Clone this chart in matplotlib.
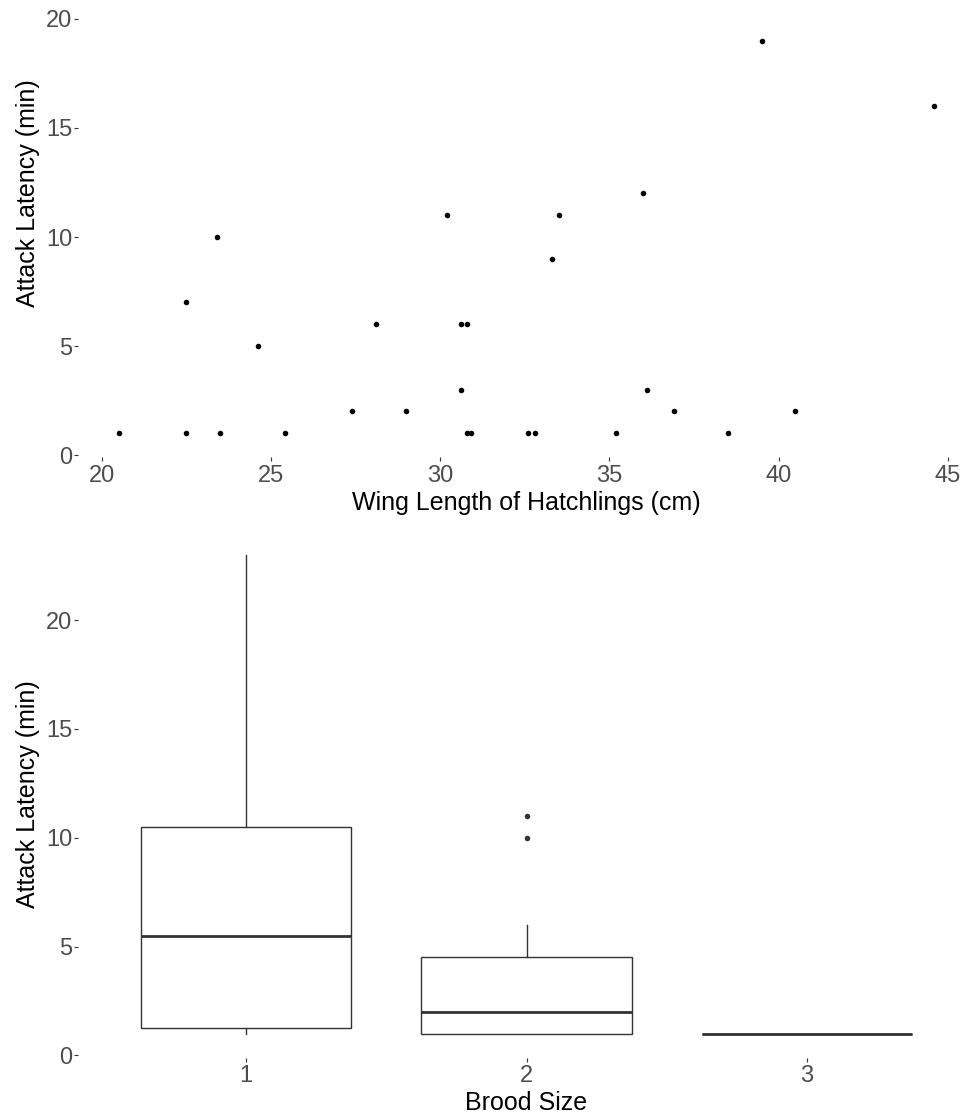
import matplotlib
matplotlib.use("Agg")
import matplotlib.pyplot as plt

# ---------------- data ----------------
wing_length = [20.5, 22.5, 22.5, 23.4, 23.5, 24.6, 25.4, 27.4, 28.1, 29.0,
               30.2, 30.6, 30.8, 30.6, 30.8, 30.9, 32.6, 32.8, 33.3, 33.5,
               35.2, 36.0, 36.1, 36.9, 38.5, 39.5, 40.5, 44.6]
latency = [1, 7, 1, 10, 1, 5, 1, 2, 6, 2,
           11, 6, 6, 3, 1, 1, 1, 1, 9, 11,
           1, 12, 3, 2, 1, 19, 2, 16]

brood_sizes = ["1", "2", "3"]
box_q1 = [1.25, 1.0, 1.0]
box_median = [5.5, 2.0, 1.0]
box_q3 = [10.5, 4.5, 1.0]
whisker_low = [1.0, 1.0, 1.0]
whisker_high = [23.0, 6.0, 1.0]
outliers = [[], [10, 11], []]

x_ticks_top = [20, 25, 30, 35, 40, 45]
y_ticks = [0, 5, 10, 15, 20]

# ---------------- figure ----------------
W, H = 969, 1117
DPI = 100
plt.rcParams['font.family'] = ['Liberation Sans', 'DejaVu Sans']
fig = plt.figure(figsize=(W / DPI, H / DPI), dpi=DPI, facecolor='white')


def px_axes(left, right, top, bottom):
    return fig.add_axes([left / W, 1 - bottom / H, (right - left) / W, (bottom - top) / H])


TICK_COLOR = '#333333'
LABEL_COLOR = '#4D4D4D'
TICK_SIZE = 17
TITLE_SIZE = 18


def style(ax):
    for s in ax.spines.values():
        s.set_visible(False)
    ax.set_facecolor('white')
    ax.tick_params(axis='both', direction='out', length=2.6, width=0.8,
                   color=TICK_COLOR, labelcolor=LABEL_COLOR, labelsize=TICK_SIZE)
    ax.tick_params(axis='y', pad=1.5)
    ax.tick_params(axis='x', pad=3)


# ggplot-like expansion
ymin_all = min(min(latency), min(whisker_low))
ymax_all = max(max(latency), max(whisker_high))
yr = ymax_all - ymin_all
ylim = (ymin_all - 0.05 * yr, ymax_all + 0.05 * yr)

# top panel: scatter
ax1 = px_axes(78, 975, -70.4, 457.2)
style(ax1)
ax1.plot(wing_length, latency, linestyle='none', marker='o', ms=4.0,
         color='black', mec='black', mew=0)
xr = max(wing_length) - min(wing_length)
ax1.set_xlim(min(wing_length) - 0.05 * xr, max(wing_length) + 0.05 * xr)
ax1.set_ylim(*ylim)
ax1.set_xticks(x_ticks_top)
ax1.set_yticks(y_ticks)
ax1.set_xlabel('Wing Length of Hatchlings (cm)', fontsize=TITLE_SIZE, color='black', labelpad=3)
ax1.set_ylabel('Attack Latency (min)', fontsize=TITLE_SIZE, color='black', labelpad=4)

# bottom panel: boxplot
ax2 = px_axes(78, 975, 530.9, 1057.5)
style(ax2)
stats = []
for i, name in enumerate(brood_sizes):
    stats.append(dict(label=name, q1=box_q1[i], med=box_median[i], q3=box_q3[i],
                      whislo=whisker_low[i], whishi=whisker_high[i], fliers=outliers[i]))
positions = list(range(1, len(brood_sizes) + 1))
ax2.bxp(stats, positions=positions, widths=0.75, showcaps=False, patch_artist=True,
        boxprops=dict(facecolor='white', edgecolor=TICK_COLOR, linewidth=1.0),
        whiskerprops=dict(color=TICK_COLOR, linewidth=1.0),
        medianprops=dict(color=TICK_COLOR, linewidth=2.0, solid_capstyle='butt'),
        flierprops=dict(marker='o', markersize=4.0, markerfacecolor=TICK_COLOR,
                        markeredgewidth=0, linestyle='none'))
ax2.set_xlim(0.4, len(brood_sizes) + 0.6)
ax2.set_ylim(*ylim)
ax2.set_xticks(positions)
ax2.set_xticklabels(brood_sizes)
ax2.set_yticks(y_ticks)
ax2.set_xlabel('Brood Size', fontsize=TITLE_SIZE, color='black', labelpad=3)
ax2.set_ylabel('Attack Latency (min)', fontsize=TITLE_SIZE, color='black', labelpad=4)

fig.savefig('out.png', dpi=DPI, facecolor='white')
